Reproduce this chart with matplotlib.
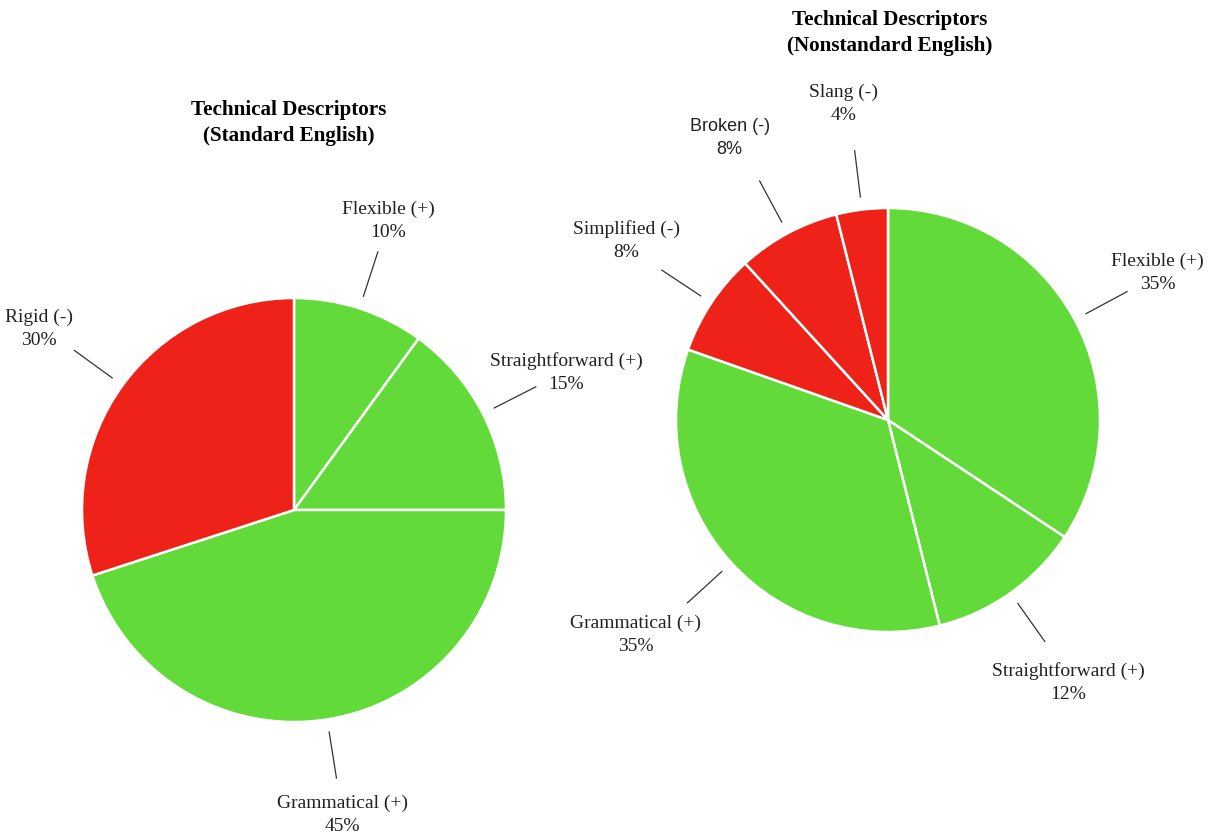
import numpy as np
import matplotlib
matplotlib.use("Agg")
import matplotlib.pyplot as plt

# ---- data ----
std_labels = ["Flexible (+)", "Straightforward (+)", "Grammatical (+)", "Rigid (-)"]
std_values = [10, 15, 45, 30]
std_colors = ["#62db3a", "#62db3a", "#62db3a", "#ee2219"]

non_labels = ["Flexible (+)", "Straightforward (+)", "Grammatical (+)",
              "Simplified (-)", "Broken (-)", "Slang (-)"]
non_values = [35, 12, 35, 8, 8, 4]
non_colors = ["#62db3a", "#62db3a", "#62db3a", "#ee2219", "#ee2219", "#ee2219"]

titles = ["Technical Descriptors\n(Standard English)",
          "Technical Descriptors\n(Nonstandard English)"]

W, H = 1224, 837
fig = plt.figure(figsize=(W / 100, H / 100), dpi=100)
ax = fig.add_axes([0, 0, 1, 1])

SERIF = ["Liberation Serif", "DejaVu Serif"]
SANS = ["Liberation Sans", "DejaVu Sans"]


def draw_pie(values, labels, colors, center, radius, text_rs, text_da,
             sans_labels=()):
    wedges, _ = ax.pie(values, colors=colors, startangle=90, counterclock=False,
                       center=center, radius=radius,
                       wedgeprops=dict(edgecolor="white", linewidth=1.8))
    for w, lab, v, tr, da in zip(wedges, labels, values, text_rs, text_da):
        mid_deg = (w.theta1 + w.theta2) / 2
        mid = np.deg2rad(mid_deg)
        c, s = np.cos(mid), np.sin(mid)
        x0, y0 = center[0] + 1.06 * radius * c, center[1] + 1.06 * radius * s
        x1, y1 = center[0] + 1.28 * radius * c, center[1] + 1.28 * radius * s
        ax.plot([x0, x1], [y0, y1], color="#333333", lw=0.9)
        ta = np.deg2rad(mid_deg + da)
        tx = center[0] + tr * radius * np.cos(ta)
        ty = center[1] + tr * radius * np.sin(ta)
        fam = SANS if lab in sans_labels else SERIF
        fs = 13 if lab in sans_labels else 14
        ax.text(tx, ty, f"{lab}\n{v}%", ha="center", va="center",
                fontsize=fs, family=fam, color="#222222", linespacing=1.45)


draw_pie(std_values, std_labels, std_colors, (294, H - 511), 212,
         [1.44, 1.44, 1.45, 1.48], [0, 0, 0, 0.5])
draw_pie(non_values, non_labels, non_colors, (888, H - 421), 212,
         [1.45, 1.50, 1.56, 1.50, 1.53, 1.51], [0.5, -0.7, -2.0, -1.0, 1.0, 1.0],
         sans_labels=("Broken (-)",))

ax.text(289, H - 123, titles[0], ha="center", va="center", fontsize=15.2,
        fontweight="bold", family=SERIF, color="black", linespacing=1.45)
ax.text(890, H - 33, titles[1], ha="center", va="center", fontsize=15.2,
        fontweight="bold", family=SERIF, color="black", linespacing=1.45)

ax.set_xlim(0, W)
ax.set_ylim(0, H)
ax.set_aspect("equal")
ax.axis("off")

fig.savefig("out.png", dpi=100, facecolor="white")
